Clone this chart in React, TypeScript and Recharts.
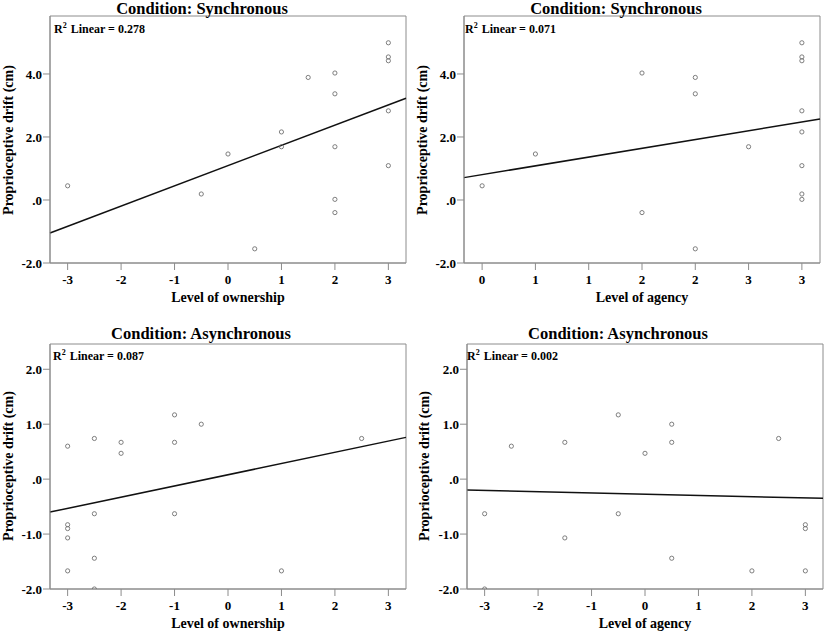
import React from "react";
import {
  ScatterChart,
  Scatter,
  XAxis,
  YAxis,
  ReferenceLine,
  ReferenceArea,
} from "recharts";

// values
const syncOwnershipX = [-3, -0.5, 0, 0.5, 1, 1, 1.5, 2, 2, 2, 2, 2, 3, 3, 3, 3, 3];
const syncOwnershipY = [0.45, 0.19, 1.46, -1.55, 2.16, 1.69, 3.89, 4.03, 3.37, 1.69, 0.02, -0.4, 4.99, 4.54, 4.42, 2.83, 1.09];

const syncAgencyX = [0, 0.5, 1.5, 1.5, 2, 2, 2, 2.5, 3, 3, 3, 3, 3, 3, 3, 3];
const syncAgencyY = [0.45, 1.46, 4.03, -0.4, 3.89, 3.37, -1.55, 1.69, 4.99, 4.54, 4.42, 2.83, 2.16, 1.09, 0.19, 0.02];

const asyncOwnershipX = [-3, -3, -3, -3, -3, -2.5, -2.5, -2.5, -2.5, -2, -2, -1, -1, -1, -0.5, 1, 2.5];
const asyncOwnershipY = [0.6, -0.83, -0.9, -1.07, -1.67, 0.74, -0.63, -1.44, -2.0, 0.67, 0.47, 1.17, 0.67, -0.63, 1.0, -1.67, 0.74];

const asyncAgencyX = [-3, -3, -2.5, -1.5, -1.5, -0.5, -0.5, 0, 0.5, 0.5, 0.5, 2, 2.5, 3, 3, 3];
const asyncAgencyY = [-0.63, -2.0, 0.6, 0.67, -1.07, 1.17, -0.63, 0.47, 1.0, 0.67, -1.44, -1.67, 0.74, -0.83, -0.9, -1.67];

// fit line end points at the plot edges
const syncOwnershipFit = [[-3.33, -1.05], [3.33, 3.23]];
const syncAgencyFit = [[-0.17, 0.71], [3.17, 2.57]];
const asyncOwnershipFit = [[-3.33, -0.6], [3.33, 0.76]];
const asyncAgencyFit = [[-3.33, -0.2], [3.33, -0.35]];

const ownershipTicks = [-3, -2, -1, 0, 1, 2, 3];
const ownershipTickLabels = ["-3", "-2", "-1", "0", "1", "2", "3"];
const agencyHalfTicks = [0, 0.5, 1, 1.5, 2, 2.5, 3];
const agencyHalfTickLabels = ["0", "1", "1", "2", "2", "3", "3"];

const syncYTicks = [-2, 0, 2, 4];
const syncYTickLabels = ["-2.0", ".0", "2.0", "4.0"];
const asyncYTicks = [-2, -1, 0, 1, 2];
const asyncYTickLabels = ["-2.0", "-1.0", ".0", "1.0", "2.0"];

const FONT = "'Liberation Serif', 'Times New Roman', serif";
const AXIS_GRAY = "#8c8c8c";

const toPoints = (xs: number[], ys: number[]) => xs.map((x, i) => ({ x, y: ys[i] }));

const OpenDot = (props: any) => (
  <circle cx={props.cx} cy={props.cy} r={2.1} fill="none" stroke="#707070" strokeWidth={0.9} />
);

interface PanelProps {
  left: number;
  top: number;
  width: number;
  height: number;
  margin: { top: number; right: number; bottom: number; left: number };
  yAxisWidth: number;
  xs: number[];
  ys: number[];
  fit: number[][];
  xDomain: [number, number];
  xTicks: number[];
  xTickLabels: string[];
  yDomain: [number, number];
  yTicks: number[];
  yTickLabels: string[];
}

function Panel(p: PanelProps) {
  const tickStyle = { fill: "#000", fontSize: 13, fontWeight: 700, fontFamily: FONT };
  return (
    <div style={{ position: "absolute", left: p.left, top: p.top }}>
      <ScatterChart width={p.width} height={p.height} margin={p.margin}>
        <XAxis
          type="number"
          dataKey="x"
          domain={p.xDomain}
          ticks={p.xTicks}
          allowDataOverflow
          height={40}
          tickSize={7}
          tickMargin={4.5}
          interval={0}
          stroke={AXIS_GRAY}
          tick={tickStyle}
          tickFormatter={(v: number, i: number) => p.xTickLabels[i]}
        />
        <YAxis
          type="number"
          dataKey="y"
          domain={p.yDomain}
          ticks={p.yTicks}
          allowDataOverflow
          width={p.yAxisWidth}
          tickSize={7}
          tickMargin={1}
          interval={0}
          stroke={AXIS_GRAY}
          tick={tickStyle}
          tickFormatter={(v: number, i: number) => p.yTickLabels[i]}
        />
        <ReferenceArea
          x1={p.xDomain[0]}
          x2={p.xDomain[1]}
          y1={p.yDomain[0]}
          y2={p.yDomain[1]}
          fill="none"
          stroke={AXIS_GRAY}
          strokeWidth={1}
          ifOverflow="visible"
        />
        <Scatter data={toPoints(p.xs, p.ys)} shape={OpenDot} isAnimationActive={false} />
        <ReferenceLine
          segment={[
            { x: p.fit[0][0], y: p.fit[0][1] },
            { x: p.fit[1][0], y: p.fit[1][1] },
          ]}
          stroke="#111"
          strokeWidth={1.5}
          ifOverflow="visible"
        />
      </ScatterChart>
    </div>
  );
}

function R2Label({ x, y, value }: { x: number; y: number; value: string }) {
  return (
    <text x={x} y={y} fontFamily={FONT} fontWeight={700} fontSize={12} fill="#000">
      <tspan>R</tspan>
      <tspan dy={-5} fontSize={8}>2</tspan>
      <tspan dx={4} dy={5}>Linear = {value}</tspan>
    </text>
  );
}

export default function App() {
  const titleStyle = { fontFamily: FONT, fontWeight: 700, fontSize: 16.5, fill: "#000" };
  const axisTitleStyle = { fontFamily: FONT, fontWeight: 700, fontSize: 14, fill: "#000" };
  return (
    <div style={{ position: "absolute", left: 0, top: 0, width: 827, height: 635, background: "#fff" }}>
      <Panel
        left={0}
        top={0}
        width={414}
        height={310}
        margin={{ top: 16, right: 8, bottom: 7, left: 0 }}
        yAxisWidth={50}
        xs={syncOwnershipX}
        ys={syncOwnershipY}
        fit={syncOwnershipFit}
        xDomain={[-3.33, 3.33]}
        xTicks={ownershipTicks}
        xTickLabels={ownershipTickLabels}
        yDomain={[-2, 5.84]}
        yTicks={syncYTicks}
        yTickLabels={syncYTickLabels}
      />
      <Panel
        left={414}
        top={0}
        width={413}
        height={310}
        margin={{ top: 16, right: 7, bottom: 7, left: 0 }}
        yAxisWidth={50}
        xs={syncAgencyX}
        ys={syncAgencyY}
        fit={syncAgencyFit}
        xDomain={[-0.17, 3.17]}
        xTicks={agencyHalfTicks}
        xTickLabels={agencyHalfTickLabels}
        yDomain={[-2, 5.84]}
        yTicks={syncYTicks}
        yTickLabels={syncYTickLabels}
      />
      <Panel
        left={0}
        top={310}
        width={414}
        height={325}
        margin={{ top: 34, right: 8, bottom: 6, left: 0 }}
        yAxisWidth={50}
        xs={asyncOwnershipX}
        ys={asyncOwnershipY}
        fit={asyncOwnershipFit}
        xDomain={[-3.33, 3.33]}
        xTicks={ownershipTicks}
        xTickLabels={ownershipTickLabels}
        yDomain={[-2, 2.46]}
        yTicks={asyncYTicks}
        yTickLabels={asyncYTickLabels}
      />
      <Panel
        left={414}
        top={310}
        width={413}
        height={325}
        margin={{ top: 34, right: 4, bottom: 6, left: 0 }}
        yAxisWidth={53}
        xs={asyncAgencyX}
        ys={asyncAgencyY}
        fit={asyncAgencyFit}
        xDomain={[-3.33, 3.33]}
        xTicks={ownershipTicks}
        xTickLabels={ownershipTickLabels}
        yDomain={[-2, 2.46]}
        yTicks={asyncYTicks}
        yTickLabels={asyncYTickLabels}
      />
      <svg
        width={827}
        height={635}
        style={{ position: "absolute", left: 0, top: 0, pointerEvents: "none" }}
      >
        <text x={202} y={14} textAnchor="middle" style={titleStyle}>Condition: Synchronous</text>
        <text x={616} y={14} textAnchor="middle" style={titleStyle}>Condition: Synchronous</text>
        <text x={201} y={338.5} textAnchor="middle" style={titleStyle}>Condition: Asynchronous</text>
        <text x={618} y={338.5} textAnchor="middle" style={titleStyle}>Condition: Asynchronous</text>

        <R2Label x={54} y={33.3} value="0.278" />
        <R2Label x={465} y={33.3} value="0.071" />
        <R2Label x={53} y={360} value="0.087" />
        <R2Label x={467} y={360} value="0.002" />

        <text x={228} y={302} textAnchor="middle" style={axisTitleStyle}>Level of ownership</text>
        <text x={642} y={302} textAnchor="middle" style={axisTitleStyle}>Level of agency</text>
        <text x={228} y={628} textAnchor="middle" style={axisTitleStyle}>Level of ownership</text>
        <text x={645} y={628} textAnchor="middle" style={axisTitleStyle}>Level of agency</text>

        <text transform="translate(12.5,140) rotate(-90)" textAnchor="middle" style={axisTitleStyle}>Proprioceptive drift (cm)</text>
        <text transform="translate(426.5,140) rotate(-90)" textAnchor="middle" style={axisTitleStyle}>Proprioceptive drift (cm)</text>
        <text transform="translate(12.5,466) rotate(-90)" textAnchor="middle" style={axisTitleStyle}>Proprioceptive drift (cm)</text>
        <text transform="translate(428.5,466) rotate(-90)" textAnchor="middle" style={axisTitleStyle}>Proprioceptive drift (cm)</text>
      </svg>
    </div>
  );
}
